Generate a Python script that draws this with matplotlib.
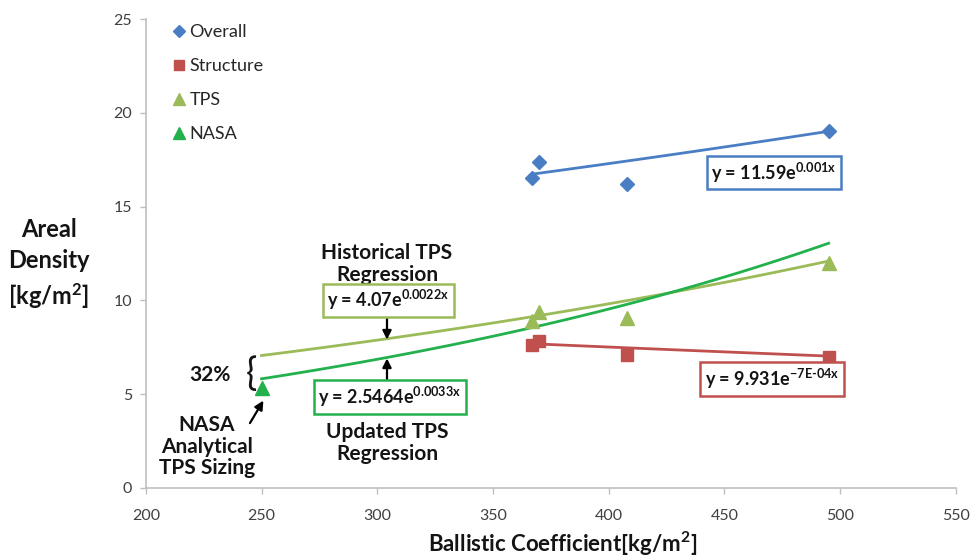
import numpy as np
import matplotlib
matplotlib.use("Agg")
import matplotlib.pyplot as plt

plt.rcParams['font.family'] = ['Lato', 'DejaVu Sans']
plt.rcParams['mathtext.fontset'] = 'custom'
plt.rcParams['mathtext.rm'] = 'Lato:bold'
plt.rcParams['mathtext.it'] = 'Lato:bold'
plt.rcParams['mathtext.bf'] = 'Lato:bold'

# ---- data ----
overall_x = [367, 370, 408, 495]
overall_y = [16.5, 17.35, 16.2, 19.05]
structure_x = [367, 370, 408, 495]
structure_y = [7.6, 7.85, 7.1, 7.0]
tps_x = [367, 370, 408, 495]
tps_y = [8.9, 9.4, 9.05, 12.0]
nasa_x = [250]
nasa_y = [5.3]

# exponential trendlines y = a*exp(b*x): (a, b, x_start, x_end)
fit_overall = (11.59, 0.001, 367, 495)
fit_structure = (9.931, -7e-4, 367, 495)
fit_hist_tps = (4.07, 0.0022, 250, 495)
fit_updated_tps = (2.5464, 0.0033, 250, 495)

x_ticks = [200, 250, 300, 350, 400, 450, 500, 550]
y_ticks = [0, 5, 10, 15, 20, 25]

c_blue = '#4A7EC4'
c_red = '#C0504D'
c_lgreen = '#9BBB59'
c_green = '#22B14C'
c_text = '#141414'

fig = plt.figure(figsize=(9.72, 5.6), dpi=100)
ax = fig.add_axes([0.150, 0.129, 0.8335, 0.837])

def trend(fit, color):
    a, b, x0, x1 = fit
    xs = np.linspace(x0, x1, 100)
    ax.plot(xs, a * np.exp(b * xs), color=color, lw=2.0, zorder=2)

trend(fit_overall, c_blue)
trend(fit_structure, c_red)
trend(fit_hist_tps, c_lgreen)
trend(fit_updated_tps, c_green)

ax.plot(overall_x, overall_y, ls='none', marker='D', ms=7, color=c_blue, label='Overall', zorder=3)
ax.plot(structure_x, structure_y, ls='none', marker='s', ms=8, color=c_red, label='Structure', zorder=3)
ax.plot(tps_x, tps_y, ls='none', marker='^', ms=10, color=c_lgreen, label='TPS', zorder=3)
ax.plot(nasa_x, nasa_y, ls='none', marker='^', ms=10, color=c_green, label='NASA', zorder=3)

ax.set_xlim(200, 550)
ax.set_ylim(0, 25)
ax.set_xticks(x_ticks)
ax.set_yticks(y_ticks)
for s in ['top', 'right']:
    ax.spines[s].set_visible(False)
for s in ['left', 'bottom']:
    ax.spines[s].set_color('#BFBFBF')
    ax.spines[s].set_linewidth(1.2)
ax.tick_params(axis='both', colors='#BFBFBF', length=4, width=1, labelsize=11.5, labelcolor='#404040')
ax.tick_params(axis='x', pad=11)
ax.tick_params(axis='y', pad=6)

leg = ax.legend(loc='upper left', bbox_to_anchor=(0.025, 1.005), frameon=False,
                handlelength=0.6, handletextpad=0.3, labelspacing=1.0, fontsize=13,
                borderaxespad=0.0, markerscale=0.85)
for t in leg.get_texts():
    t.set_color('#262626')

fig.text(0.579, 0.028, 'Ballistic Coefficient[kg/m$^{\\mathrm{2}}$]', fontsize=16, fontweight='bold',
         ha='center', va='center', color=c_text)
fig.text(0.05, 0.528, 'Areal\nDensity\n[kg/m$^{\\mathrm{2}}$]', fontsize=17, fontweight='bold',
         ha='center', va='center', linespacing=1.4, color=c_text)

def eqbox(x, y, s, color):
    ax.text(x, y, s, fontsize=13, fontweight='bold', ha='center', va='center', color=c_text,
            bbox=dict(boxstyle='square,pad=0.25', fc='white', ec=color, lw=1.8), zorder=5)

eqbox(471.3, 16.8, 'y = 11.59e$^{0.001x}$', c_blue)
eqbox(470.5, 5.8, 'y = 9.931e$^{-7E\\text{-}04x}$', c_red)
eqbox(304.8, 10.0, 'y = 4.07e$^{0.0022x}$', c_lgreen)
eqbox(305.5, 4.84, 'y = 2.5464e$^{0.0033x}$', c_green)

ax.text(304.2, 11.95, 'Historical TPS\nRegression', fontsize=15, fontweight='bold',
        ha='center', va='center', linespacing=1.12, color=c_text)
ax.text(304.2, 2.4, 'Updated TPS\nRegression', fontsize=15, fontweight='bold',
        ha='center', va='center', linespacing=1.12, color=c_text)
ax.text(226.3, 2.2, 'NASA\nAnalytical\nTPS Sizing', fontsize=15, fontweight='bold',
        ha='center', va='center', linespacing=1.12, color=c_text)
ax.text(227.8, 6.0, '32%', fontsize=15, fontweight='bold', ha='center', va='center', color=c_text)
ax.text(245.5, 6.05, '{', fontsize=27, ha='center', va='center', color=c_text)

arrow = dict(arrowstyle='-|>', color='black', lw=1.6, mutation_scale=13, shrinkA=0, shrinkB=0)
ax.annotate('', xy=(304.2, 7.9), xytext=(304.2, 9.4), arrowprops=arrow)
ax.annotate('', xy=(304.2, 6.9), xytext=(304.2, 5.55), arrowprops=arrow)
ax.annotate('', xy=(250.8, 4.65), xytext=(245.0, 3.45), arrowprops=arrow)

fig.savefig('out.png', dpi=100)
